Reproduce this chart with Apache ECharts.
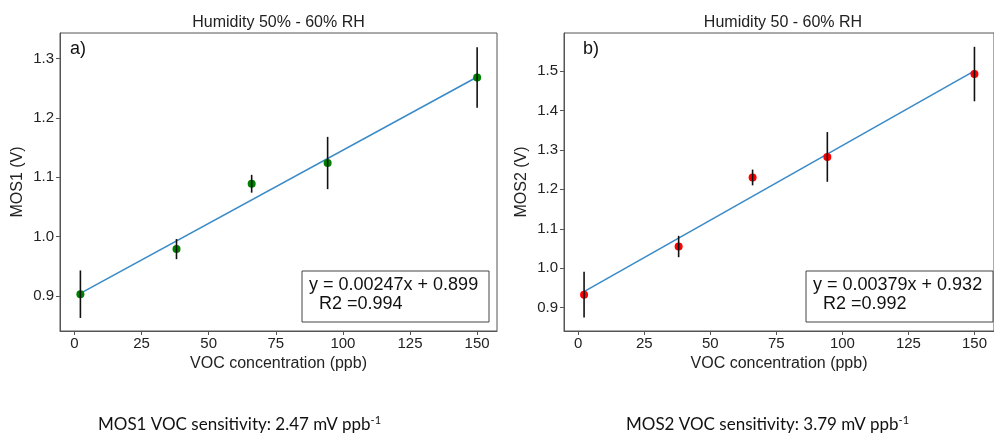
<!DOCTYPE html>
<html>
<head>
<meta charset="utf-8">
<script src="https://cdn.jsdelivr.net/npm/echarts@6/dist/echarts.min.js"></script>
<style>html,body{margin:0;padding:0;background:#fff}#c{width:994px;height:433px}</style>
</head>
<body>
<div id="c"></div>
<script>
// ---- data ----
var vocX = [2.2, 38, 66, 94.3, 150];
var mos1Y = [0.903, 0.979, 1.089, 1.124, 1.268];
var mos1Err = [0.040, 0.017, 0.015, 0.044, 0.051];
var mos2Y = [0.933, 1.055, 1.230, 1.282, 1.492];
var mos2Err = [0.058, 0.027, 0.020, 0.063, 0.069];
var fitX = [2, 150];
var fit1Y = [0.904, 1.269];
var fit2Y = [0.940, 1.500];
var xTicks = [0, 25, 50, 75, 100, 125, 150];
var y1Ticks = [0.9, 1.0, 1.1, 1.2, 1.3];
var y2Ticks = [0.9, 1.0, 1.1, 1.2, 1.3, 1.4, 1.5];
var titles = ['Humidity 50% - 60% RH', 'Humidity 50 - 60% RH'];
var panelLabels = ['a)', 'b)'];
var yNames = ['MOS1 (V)', 'MOS2 (V)'];
var xName = 'VOC concentration (ppb)';
var eqTexts = ['y = 0.00247x + 0.899\n  R2 =0.994', 'y = 0.00379x + 0.932\n  R2 =0.992'];
var footTexts = [['MOS1 VOC sensitivity: 2.47 mV ppb', '-1'], ['MOS2 VOC sensitivity: 3.79 mV ppb', '-1']];

var FONT = 'Liberation Sans, Arial, sans-serif';
var AX = '#555';

function pairs(xs, ys) { return xs.map(function (x, i) { return [x, ys[i]]; }); }
function errData(xs, ys, es) { return xs.map(function (x, i) { return [x, ys[i], es[i]]; }); }

function xAxis(gi) {
  return {
    type: 'value', gridIndex: gi, min: -5.4, max: 157.4,
    name: xName, nameLocation: 'middle', nameGap: 24,
    nameTextStyle: { fontFamily: FONT, fontSize: 16, color: '#222' },
    splitLine: { show: false },
    axisLine: { show: true, onZero: false, lineStyle: { color: AX, width: 1 } },
    axisTick: { show: true, length: 4, lineStyle: { color: AX }, customValues: xTicks },
    axisLabel: { fontFamily: FONT, fontSize: 15, color: '#222', margin: 5, customValues: xTicks }
  };
}
function yAxis(gi, min, max, ticks) {
  return {
    type: 'value', gridIndex: gi, min: min, max: max,
    name: yNames[gi], nameLocation: 'middle', nameGap: 34,
    nameTextStyle: { fontFamily: FONT, fontSize: 16, color: '#222' },
    splitLine: { show: false },
    axisLine: { show: true, onZero: false, lineStyle: { color: AX, width: 1 } },
    axisTick: { show: true, length: 4, lineStyle: { color: AX }, customValues: ticks },
    axisLabel: { fontFamily: FONT, fontSize: 15, color: '#222', margin: 6, customValues: ticks,
      formatter: function (v) { return v.toFixed(1); } }
  };
}
function errSeries(gi, data) {
  return {
    type: 'custom', xAxisIndex: gi, yAxisIndex: gi, z: 4, data: data,
    renderItem: function (params, api) {
      var x = api.value(0), y = api.value(1), e = api.value(2);
      var p1 = api.coord([x, y - e]), p2 = api.coord([x, y + e]);
      return { type: 'line', shape: { x1: p1[0], y1: p1[1], x2: p2[0], y2: p2[1] },
        style: { stroke: '#111', lineWidth: 1.6 } };
    }
  };
}
function fitSeries(gi, ys) {
  return { type: 'line', xAxisIndex: gi, yAxisIndex: gi, z: 2, data: pairs(fitX, ys),
    symbol: 'none', lineStyle: { color: '#3a8bc8', width: 1.6 }, silent: true };
}
function ptSeries(gi, ys, color) {
  return { type: 'scatter', xAxisIndex: gi, yAxisIndex: gi, z: 3, data: pairs(vocX, ys),
    symbol: 'circle', symbolSize: 8, itemStyle: { color: color, opacity: 1 } };
}
function eqBox(x, y, w, h, txt) {
  return { type: 'group', children: [
    { type: 'rect', shape: { x: x, y: y, width: w, height: h },
      style: { fill: '#fff', stroke: '#444', lineWidth: 1 }, z: 10 },
    { type: 'text', x: x + 7, y: y + 5, z: 11,
      style: { text: txt, fontFamily: FONT, fontSize: 18, lineHeight: 19, fill: '#111',
        textAlign: 'left', textVerticalAlign: 'top' } }
  ] };
}
function foot(x, parts) {
  return { type: 'text', x: x, y: 434, z: 11,
    style: { text: parts[0] + '{s|' + parts[1] + '}', fontFamily: 'Lato, sans-serif', fontSize: 17,
      fill: '#111', textAlign: 'left', textVerticalAlign: 'bottom',
      rich: { s: { fontFamily: 'Lato, sans-serif', fontSize: 11, fill: '#111', padding: [0, 0, 8, 0] } } } };
}

var chart = echarts.init(document.getElementById('c'), null, { renderer: 'canvas' });
chart.setOption({
  animation: false,
  backgroundColor: '#fff',
  grid: [
    { left: 60, top: 33, width: 437, height: 298, show: true, borderColor: AX, borderWidth: 1, containLabel: false },
    { left: 564, top: 33, width: 438, height: 298, show: true, borderColor: AX, borderWidth: 1, containLabel: false }
  ],
  xAxis: [xAxis(0), xAxis(1)],
  yAxis: [yAxis(0, 0.841, 1.343, y1Ticks), yAxis(1, 0.841, 1.596, y2Ticks)],
  series: [
    fitSeries(0, fit1Y), ptSeries(0, mos1Y, '#008000'), errSeries(0, errData(vocX, mos1Y, mos1Err)),
    fitSeries(1, fit2Y), ptSeries(1, mos2Y, '#ff0000'), errSeries(1, errData(vocX, mos2Y, mos2Err))
  ],
  graphic: [
    { type: 'text', x: 278.5, y: 23, style: { text: titles[0], fontFamily: FONT, fontSize: 16, fill: '#222', textAlign: 'center', textVerticalAlign: 'middle' } },
    { type: 'text', x: 783, y: 23, style: { text: titles[1], fontFamily: FONT, fontSize: 16, fill: '#222', textAlign: 'center', textVerticalAlign: 'middle' } },
    { type: 'text', x: 70, y: 49, style: { text: panelLabels[0], fontFamily: FONT, fontSize: 18, fill: '#111', textAlign: 'left', textVerticalAlign: 'middle' } },
    { type: 'text', x: 583, y: 49, style: { text: panelLabels[1], fontFamily: FONT, fontSize: 18, fill: '#111', textAlign: 'left', textVerticalAlign: 'middle' } },
    eqBox(302, 271, 187, 51, eqTexts[0]),
    eqBox(806, 271, 187, 51, eqTexts[1]),
    foot(98, footTexts[0]),
    foot(626, footTexts[1])
  ]
});
</script>
</body>
</html>
